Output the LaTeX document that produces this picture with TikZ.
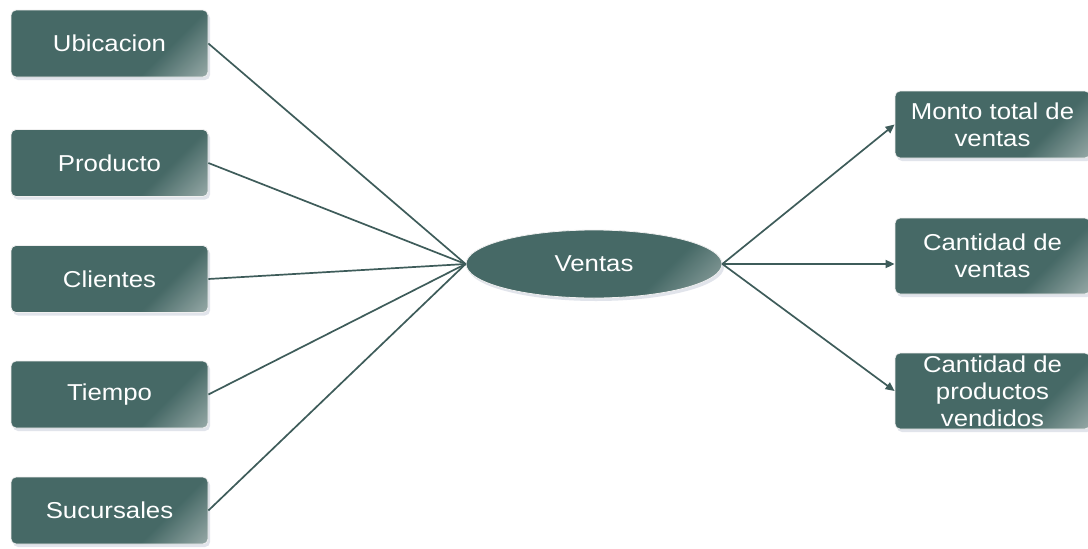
\documentclass[tikz,border=0pt]{standalone}
\usepackage{fontspec}
\setmainfont{Liberation Sans}
\newfontfamily\boxfont[FakeStretch=1.12]{Liberation Sans}
\usetikzlibrary{shapes.geometric,arrows.meta,shadows}
\definecolor{boxdark}{RGB}{70,105,102}
\definecolor{boxlight}{RGB}{205,212,211}
\definecolor{linecol}{RGB}{62,92,90}
\definecolor{shadowcol}{RGB}{120,135,165}
\pgfdeclareverticalshading{boxshade}{100bp}{color(0bp)=(boxlight); color(16bp)=(boxlight!55!boxdark); color(33bp)=(boxdark); color(100bp)=(boxdark)}
\tikzset{
  base/.style={shading=boxshade, shading angle=45, draw=white!88!gray, line width=0.8pt,
    text=white, font=\boxfont\fontsize{23}{27}\selectfont, align=center, inner sep=0pt,
    drop shadow={shadow xshift=2pt, shadow yshift=-3pt, opacity=0.22, fill=shadowcol}},
  leftbox/.style={base, rectangle, rounded corners=5pt, minimum width=197pt, minimum height=67pt},
  rightbox/.style={base, rectangle, rounded corners=5pt, minimum width=195pt},
  hub/.style={base, ellipse, minimum width=256pt, minimum height=68pt},
  link/.style={linecol, line width=1.7pt},
  arr/.style={link, -{Triangle[length=9pt,width=8pt]}}
}
\begin{document}
\begin{tikzpicture}[x=1pt,y=-1pt]
\useasboundingbox[fill=white] (0,0) rectangle (1088,549);
\node[leftbox] (ubi) at (109.5,43.5) {Ubicacion};
\node[leftbox] (pro) at (109.5,163) {Producto};
\node[leftbox] (cli) at (109.5,279) {Clientes};
\node[leftbox] (tie) at (109.5,394.5) {Tiempo};
\node[leftbox] (suc) at (109.5,510.5) {Sucursales};
\node[hub] (ven) at (594,264) {Ventas};
\node[rightbox, minimum height=67pt] (mon) at (992.5,124.5) {Monto total de\\ventas};
\node[rightbox, minimum height=76pt] (cv) at (992.5,256) {Cantidad de\\ventas};
\node[rightbox, minimum height=76pt] (cp) at (992.5,391) {Cantidad de\\productos\\vendidos};
\draw[link] (ubi.east) -- (ven.west);
\draw[link] (pro.east) -- (ven.west);
\draw[link] (cli.east) -- (ven.west);
\draw[link] (tie.east) -- (ven.west);
\draw[link] (suc.east) -- (ven.west);
\draw[arr] (ven.east) -- (mon.west);
\draw[arr] (ven.east) -- (cv.west |- ven.east);
\draw[arr] (ven.east) -- (cp.west);
\end{tikzpicture}
\end{document}
